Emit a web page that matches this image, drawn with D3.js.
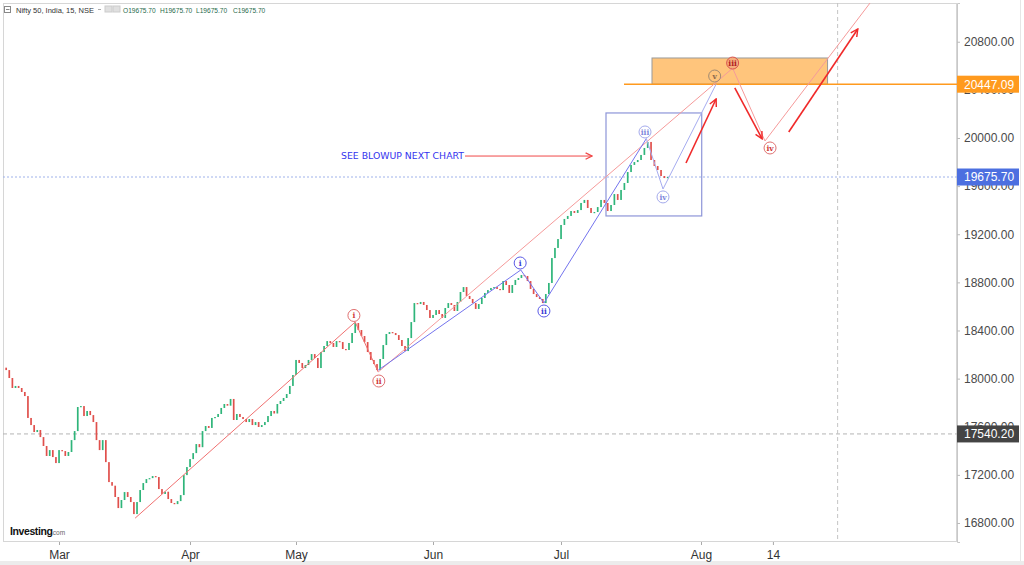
<!DOCTYPE html>
<html>
<head>
<meta charset="utf-8">
<script src="https://cdn.jsdelivr.net/npm/d3@7/dist/d3.min.js"></script>
<style>
html,body{margin:0;padding:0;background:#fff;}
svg{display:block;font-family:"Liberation Sans",Arial,sans-serif;}
</style>
</head>
<body>
<svg id="chart" width="1024" height="565"></svg>
<script>
// ---------------- data ----------------
const closes = [
 18071,18005,17922,17939,17922,17889,17855,17673,17614,17556,17573,17514,17440,17357,17406,17348,17298,
 17406,17398,17357,17390,17489,17564,17764,17772,17689,17731,17697,17639,17489,17406,17489,17306,17140,17110,17016,16924,16991,17057,17016,16974,16874,16974,17074,17132,17165,17173,17190,17182,17082,17041,17060,16999,16966,16957,16982,17032,17198,17265,
 17331,17381,17456,17430,17564,17606,17590,17673,17681,17706,17756,17789,17775,17831,17656,17706,17681,17664,17639,17664,17614,17639,17598,17614,17639,17689,17731,17710,17789,17814,17839,17872,17939,18030,
 18155,18130,18088,18113,18155,18204,18171,18088,18221,18271,18312,18296,18263,18312,18304,18246,18238,18296,18379,18462,18404,18354,18304,18221,18155,18121,18071,18163,18279,18371,18387,18379,18362,18321,18271,18229,18337,18470,18628,18620,18637,18612,18570,18504,
 18529,18570,18537,18504,18587,18628,18612,18562,18637,18720,18761,18687,18662,18628,18579,18620,18670,18712,18736,18753,18761,18745,18736,18811,18778,18712,18778,18820,18836,18861,18853,18811,18745,18703,18678,18662,18628,18703,18795,19002,19086,19160,
 19277,19327,19352,19393,19377,19401,19460,19485,19418,19377,19385,19426,19485,19460,19393,19443,19534,19485,19568,19626,19717,19776,19800,19817,19859,19917,19967,19817,19767,19734,19684,19667,19675.7
];
const firstSession = -8.5;
const sessionStep = 0.5;
const timeTickLabels = ["Mar","Apr","May","Jun","Jul","Aug","14"];
const timeTickSessions = [0,21,38,60,81,102,112];
const priceTicks = [16800,17200,17600,18000,18400,18800,19200,19600,20000,20400,20800];
const lastPrice = 19675.70;
const targetPrice = 20447.09;
const markerPrice = 17540.20;
const futureLineSession = 121;
const redWave = [[12.2,16840],[47.5,18470],[51.2,18055],[106.4,20580],[110.9,19975],[126.5,21200]];
const blueWaveA = [[51.2,18070],[74.4,18903],[78.2,18628],[93.8,19995]];
const blueWaveB = [[93.8,19995],[96.3,19576],[104.1,20447.09]];
const waveLabels = [
  {text:"i",   s:47.3,  p:18525, kind:"red"},
  {text:"ii",  s:51.3,  p:17980, kind:"red"},
  {text:"i",   s:74.3,  p:18961, kind:"blue"},
  {text:"ii",  s:78.2,  p:18562, kind:"blue"},
  {text:"iii", s:93.6,  p:20050, kind:"light"},
  {text:"iv",  s:96.3,  p:19510, kind:"light"},
  {text:"v",   s:103.9, p:20515, kind:"tan"},
  {text:"iii", s:106.4, p:20623, kind:"redFill"},
  {text:"iv",  s:111.6, p:19917, kind:"red"}
];
const projArrows = [
  [[99.75,19792],[104.1,20324]],
  [[106.7,20416],[110.5,19992]],
  [[114.2,20050],[123.8,20906]]
];
const targetZone = {s0:94.65, s1:119.6, p0:20447.09, p1:20665};
const blowupBox = {s0:87.75, s1:102.1, p0:19352, p1:20208};
const targetLineStart = 90.45;
const noteText = "SEE BLOWUP NEXT CHART";
const note = {s0:65.25, s1:85.65, p:19850};
const headerTitle = "Nifty 50, India, 15, NSE";
const headerOHLC = ["O19675.70","H19675.70","L19675.70","C19675.70"];

// ---------------- layout ----------------
const L = 3, R = 957, T = 3, B = 542;
const svg = d3.select("#chart");
const x = d3.scaleLinear()
  .domain([-9, 0, 21, 38, 60, 81, 102, 137.6])
  .range([L, 59, 190, 296, 433, 561, 701, R]);
const y = d3.scaleLinear().domain([16642, 21122]).range([B, T]);

svg.append("rect").attr("width",1024).attr("height",565).attr("fill","#fff");
svg.append("rect").attr("x",0).attr("y",561).attr("width",1024).attr("height",4).attr("fill","#ececec");
svg.append("line").attr("x1",1020.5).attr("x2",1020.5).attr("y1",0).attr("y2",561).attr("stroke","#e6e6e6");

const defs = svg.append("defs");
defs.append("clipPath").attr("id","plotclip").append("rect")
  .attr("x",L).attr("y",T).attr("width",R-L).attr("height",B-T);
function marker(id, color, size){
  defs.append("marker").attr("id",id).attr("viewBox","0 0 10 10")
    .attr("refX",9).attr("refY",5).attr("markerWidth",size).attr("markerHeight",size)
    .attr("markerUnits","userSpaceOnUse").attr("orient","auto")
    .append("path").attr("d","M1,1 L9,5 L1,9").attr("fill","none")
    .attr("stroke",color).attr("stroke-width",1.6);
}
marker("arrThick","#f02a2a",9);
marker("arrThin","#f04848",8);

// frame
svg.append("rect").attr("x",L+0.5).attr("y",T+0.5).attr("width",R-L-1).attr("height",B-T-1)
  .attr("fill","none").attr("stroke","#d6d6d6");

const plot = svg.append("g").attr("clip-path","url(#plotclip)");

// reference lines
plot.append("line").attr("x1",L).attr("x2",R).attr("y1",y(lastPrice)).attr("y2",y(lastPrice))
  .attr("stroke","#9fb2ea").attr("stroke-dasharray","2,2");
plot.append("line").attr("x1",L).attr("x2",R).attr("y1",y(markerPrice)).attr("y2",y(markerPrice))
  .attr("stroke","#b4b4b4").attr("stroke-dasharray","4,3");
plot.append("line").attr("x1",x(futureLineSession)).attr("x2",x(futureLineSession)).attr("y1",T).attr("y2",B)
  .attr("stroke","#c4c4c4").attr("stroke-dasharray","4,3");

// target zone
plot.append("rect")
  .attr("x",x(targetZone.s0)).attr("y",y(targetZone.p1))
  .attr("width",x(targetZone.s1)-x(targetZone.s0)).attr("height",y(targetZone.p0)-y(targetZone.p1))
  .attr("fill","#ffc57c").attr("stroke","#9a9a9a").attr("stroke-width",1);
plot.append("line").attr("x1",x(targetLineStart)).attr("x2",R).attr("y1",y(targetPrice)).attr("y2",y(targetPrice))
  .attr("stroke","#ff9a1e").attr("stroke-width",1.6);

// blowup box
plot.append("rect")
  .attr("x",x(blowupBox.s0)).attr("y",y(blowupBox.p1))
  .attr("width",x(blowupBox.s1)-x(blowupBox.s0)).attr("height",y(blowupBox.p0)-y(blowupBox.p1))
  .attr("fill","none").attr("stroke","#8d95d8").attr("stroke-width",1.2);

// candles
const candles = closes.map((c,i)=>({s:firstSession+i*sessionStep, o: i===0 ? c+20 : closes[i-1], c}));
plot.append("g").selectAll("rect").data(candles).join("rect")
  .attr("x",d=>x(d.s)-0.8)
  .attr("width",1.7)
  .attr("y",d=>y(Math.max(d.o,d.c)))
  .attr("height",d=>Math.max(1.2, Math.abs(y(d.o)-y(d.c))))
  .attr("fill",d=>d.c>=d.o ? "#2fb57a" : "#e0504c");

// wave lines
const line = d3.line().x(d=>x(d[0])).y(d=>y(d[1]));
plot.append("path").attr("d",line(redWave.slice(0,3))).attr("fill","none").attr("stroke","#f07070").attr("stroke-width",1);
plot.append("path").attr("d",line(redWave.slice(2))).attr("fill","none").attr("stroke","#f59a9a").attr("stroke-width",1);
plot.append("path").attr("d",line(blueWaveA)).attr("fill","none").attr("stroke","#7474ee").attr("stroke-width",1);
plot.append("path").attr("d",line(blueWaveB)).attr("fill","none").attr("stroke","#a6acf0").attr("stroke-width",1);

// projection arrows
projArrows.forEach(a=>{
  plot.append("line").attr("x1",x(a[0][0])).attr("y1",y(a[0][1]))
    .attr("x2",x(a[1][0])).attr("y2",y(a[1][1]))
    .attr("stroke","#f02a2a").attr("stroke-width",1.6).attr("marker-end","url(#arrThick)");
});

// note
const noteY = y(note.p);
svg.append("text").attr("x",x(note.s0)-1).attr("y",noteY+3.2).attr("text-anchor","end")
  .attr("font-size",9).attr("fill","#3434ee").attr("font-family","'DejaVu Sans',sans-serif")
  .attr("textLength",123).attr("lengthAdjust","spacingAndGlyphs").text(noteText);
svg.append("line").attr("x1",x(note.s0)).attr("x2",x(note.s1)).attr("y1",noteY).attr("y2",noteY)
  .attr("stroke","#f04848").attr("stroke-width",1).attr("marker-end","url(#arrThin)");

// wave labels
const labelStyle = {
  red:{stroke:"#e07070", fill:"#fff", text:"#d03a3a"},
  blue:{stroke:"#5a5ae6", fill:"#fff", text:"#3a3ad6"},
  light:{stroke:"#a4aaec", fill:"#fff", text:"#8088dc"},
  tan:{stroke:"#a08a72", fill:"none", text:"#8a6a4e"},
  redFill:{stroke:"#d9534f", fill:"#f5ae7c", text:"#b02020"}
};
const lg = svg.append("g").selectAll("g").data(waveLabels).join("g")
  .attr("transform",d=>`translate(${x(d.s)},${y(d.p)})`);
lg.append("circle").attr("r",6).attr("fill",d=>labelStyle[d.kind].fill)
  .attr("stroke",d=>labelStyle[d.kind].stroke).attr("stroke-width",1);
lg.append("text").attr("text-anchor","middle").attr("dy",2.6).attr("font-size",7.5)
  .attr("font-weight","bold").attr("font-family","'DejaVu Serif',serif")
  .attr("fill",d=>labelStyle[d.kind].text).text(d=>d.text);

// axes
const yAxis = svg.append("g").attr("transform",`translate(${R},0)`)
  .call(d3.axisRight(y).tickValues(priceTicks).tickSize(3).tickFormat(d3.format(".2f")));
yAxis.select(".domain").attr("stroke","#c8c8c8");
yAxis.selectAll(".tick line").attr("stroke","#bbb");
yAxis.selectAll(".tick text").attr("x",7).attr("fill","#4a4a4a").attr("font-size",12)
  .attr("font-family","'Liberation Sans',Arial,sans-serif");

const xAxis = svg.append("g").attr("transform",`translate(0,${B})`)
  .call(d3.axisBottom(x).tickValues(timeTickSessions).tickSize(3)
    .tickFormat((d,i)=>timeTickLabels[i]));
xAxis.select(".domain").remove();
xAxis.selectAll(".tick line").attr("stroke","#aaa");
xAxis.selectAll(".tick text").attr("y",8).attr("fill","#333").attr("font-size",12)
  .attr("font-family","'Liberation Sans Narrow','Liberation Sans',Arial,sans-serif");

// price labels on axis
function priceTag(p, color){
  const g = svg.append("g").attr("transform",`translate(${R},${y(p)})`);
  g.append("rect").attr("x",0).attr("y",-8.5).attr("width",62).attr("height",17).attr("fill",color);
  g.append("text").attr("x",7).attr("y",4.3).attr("fill","#fff").attr("font-size",12)
    .attr("font-family","'Liberation Sans',Arial,sans-serif").text(d3.format(".2f")(p));
}
priceTag(targetPrice,"#ff9a1e");
priceTag(lastPrice,"#4c6fe0");
priceTag(markerPrice,"#444444");

// header
const hdr = svg.append("g").attr("font-family","'Liberation Sans',Arial,sans-serif");
hdr.append("rect").attr("x",4.5).attr("y",6.5).attr("width",6).attr("height",6).attr("fill","none").attr("stroke","#888");
hdr.append("line").attr("x1",6).attr("x2",9.5).attr("y1",9.5).attr("y2",9.5).attr("stroke","#888");
hdr.append("text").attr("x",16).attr("y",12.5).attr("font-size",7.5).attr("fill","#333").text(headerTitle);
hdr.append("line").attr("x1",98).attr("x2",101).attr("y1",9.5).attr("y2",9.5).attr("stroke","#aaa");
hdr.append("rect").attr("x",105).attr("y",6).attr("width",7).attr("height",6).attr("fill","#e0e0e0").attr("stroke","#ccc");
hdr.append("rect").attr("x",113).attr("y",6).attr("width",7).attr("height",6).attr("fill","#e0e0e0").attr("stroke","#ccc");
const ohlcX = [123,160,196,233];
headerOHLC.forEach((t,i)=>{
  hdr.append("text").attr("x",ohlcX[i]).attr("y",12.5).attr("font-size",6.6).attr("fill","#1f6b4c").text(t);
});

// logo
const logo = svg.append("g");
logo.append("text").attr("x",10).attr("y",535).attr("font-size",10.5).attr("font-weight","bold")
  .attr("fill","#111").attr("letter-spacing","-0.4").attr("font-family","'Liberation Sans',Arial,sans-serif").text("Investing");
logo.append("text").attr("x",51).attr("y",535).attr("font-size",6.5).attr("fill","#666")
  .attr("font-family","'Liberation Sans',Arial,sans-serif").text(".com");
</script>
</body>
</html>
